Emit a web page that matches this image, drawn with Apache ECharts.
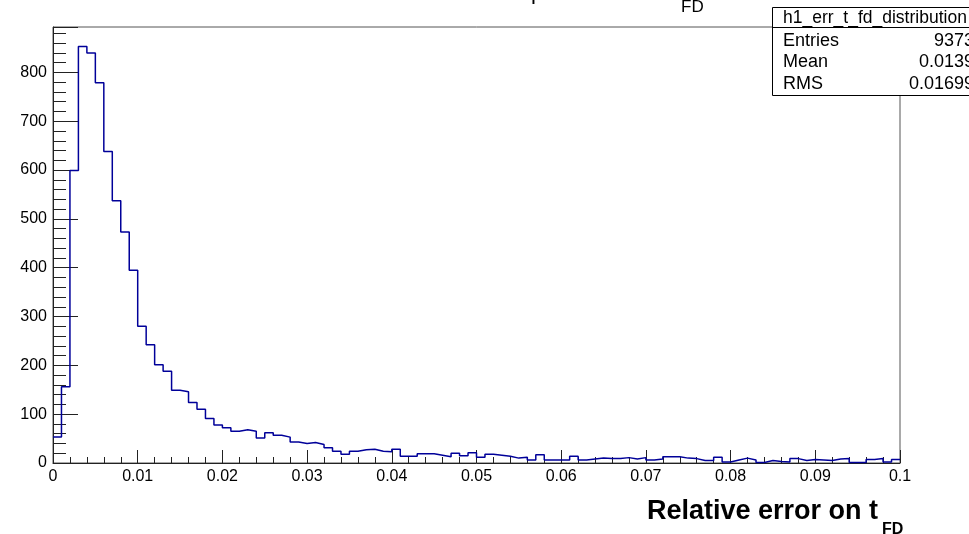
<!DOCTYPE html>
<html>
<head>
<meta charset="utf-8">
<script src="https://cdn.jsdelivr.net/npm/echarts@6/dist/echarts.min.js"></script>
<style>
  html, body { margin: 0; padding: 0; background: #fff; }
  #chart { width: 969px; height: 534px; }
</style>
</head>
<body>
<div id="chart"></div>
<script>
// histogram h1_err_t_fd_distribution: 100 bins from 0 to 0.1
const xMin = 0
const xMax = 0.1
const counts = [
  53, 156, 599, 853, 840, 779, 638, 537, 473, 395,
  280, 242, 201, 188, 149, 146, 124, 110, 91, 78,
  72, 65, 68, 65, 51, 62, 57, 53, 43, 40,
  42, 38, 31, 24, 18, 24, 27, 28, 24, 23,
  28, 14, 14, 19, 19, 16, 13, 20, 15, 21,
  12, 18, 16, 14, 10, 12, 6, 17, 6, 6,
  6, 14, 6, 8, 10, 9, 9, 11, 8, 11,
  6, 8, 13, 13, 10, 9, 5, 5, 12, 2,
  6, 10, 6, 1, 5, 3, 2, 9, 5, 7,
  6, 5, 8, 9, 1, 1, 7, 9, 2, 7
]
const statsName = 'h1_err_t_fd_distribution'
const statsRows = [
  ['Entries', '9373'],
  ['Mean', '0.0139'],
  ['RMS', '0.01699']
]

const binW = (xMax - xMin) / counts.length
// left edge of each bin + closing point at the right edge
let stepData = counts.map((c, i) => [xMin + i * binW, c])
stepData.push([xMax, counts[counts.length - 1]])

const font = 'Liberation Sans, Arial, sans-serif'
const axisColor = '#222'

let chart = echarts.init(document.getElementById('chart'))
let option = {
  backgroundColor: '#fff',
  animation: false,
  grid: {
    left: 53,
    right: 69,
    top: 27,
    bottom: 71,
    show: true,
    borderColor: '#555',
    borderWidth: 1
  },
  xAxis: {
    type: 'value',
    min: xMin,
    max: xMax,
    interval: 0.01,
    axisLine: { lineStyle: { color: axisColor } },
    axisTick: { inside: true, length: 13, lineStyle: { color: axisColor } },
    minorTick: { show: true, splitNumber: 5, length: 6, lineStyle: { color: axisColor } },
    splitLine: { show: false },
    axisLabel: { color: '#000', fontSize: 16, fontFamily: font, margin: 6 }
  },
  yAxis: {
    type: 'value',
    min: 0,
    max: 893,
    interval: 100,
    axisLine: { show: true, lineStyle: { color: axisColor } },
    axisTick: { inside: true, length: 25, lineStyle: { color: axisColor } },
    minorTick: { show: true, splitNumber: 5, length: 13, lineStyle: { color: axisColor } },
    splitLine: { show: false },
    axisLabel: {
      color: '#000',
      fontSize: 16,
      fontFamily: font,
      margin: 6,
      showMaxLabel: false
    }
  },
  series: [{
    type: 'line',
    step: 'end',
    symbol: 'none',
    lineStyle: { color: '#000099', width: 1.5 },
    data: stepData
  }],
  graphic: [
    // title, mostly cut off at the top
    { type: 'text', left: 531, top: -18, style: { text: 'p', font: '22px ' + font, fill: '#000' } },
    { type: 'text', left: 681, top: -1, style: { text: 'FD', font: '17px ' + font, fill: '#000' } },
    // x axis title
    { type: 'text', left: 647, top: 498, style: { text: 'Relative error on t', font: 'bold 27px ' + font, fill: '#000' } },
    { type: 'text', left: 882, top: 522, style: { text: 'FD', font: 'bold 16px ' + font, fill: '#000' } },
    // stats box
    { type: 'rect', shape: { x: 772.5, y: 7.5, width: 220, height: 88 }, style: { fill: '#fff', stroke: '#000', lineWidth: 1 } },
    { type: 'line', shape: { x1: 772.5, y1: 27.5, x2: 969, y2: 27.5 }, style: { stroke: '#000', lineWidth: 1 } },
    { type: 'text', left: 783, top: 9, style: { text: statsName, font: '17.5px ' + font, fill: '#000' } }
  ].concat(statsRows.map((r, i) => ({
    type: 'text', left: 783, top: 32 + i * 21.5, style: { text: r[0], font: '18px ' + font, fill: '#000' }
  }))).concat(statsRows.map((r, i) => ({
    type: 'text', x: 974, y: 32 + i * 21.5, style: { text: r[1], font: '18px ' + font, fill: '#000', align: 'right', verticalAlign: 'top' }
  })))
}
chart.setOption(option)
</script>
</body>
</html>
